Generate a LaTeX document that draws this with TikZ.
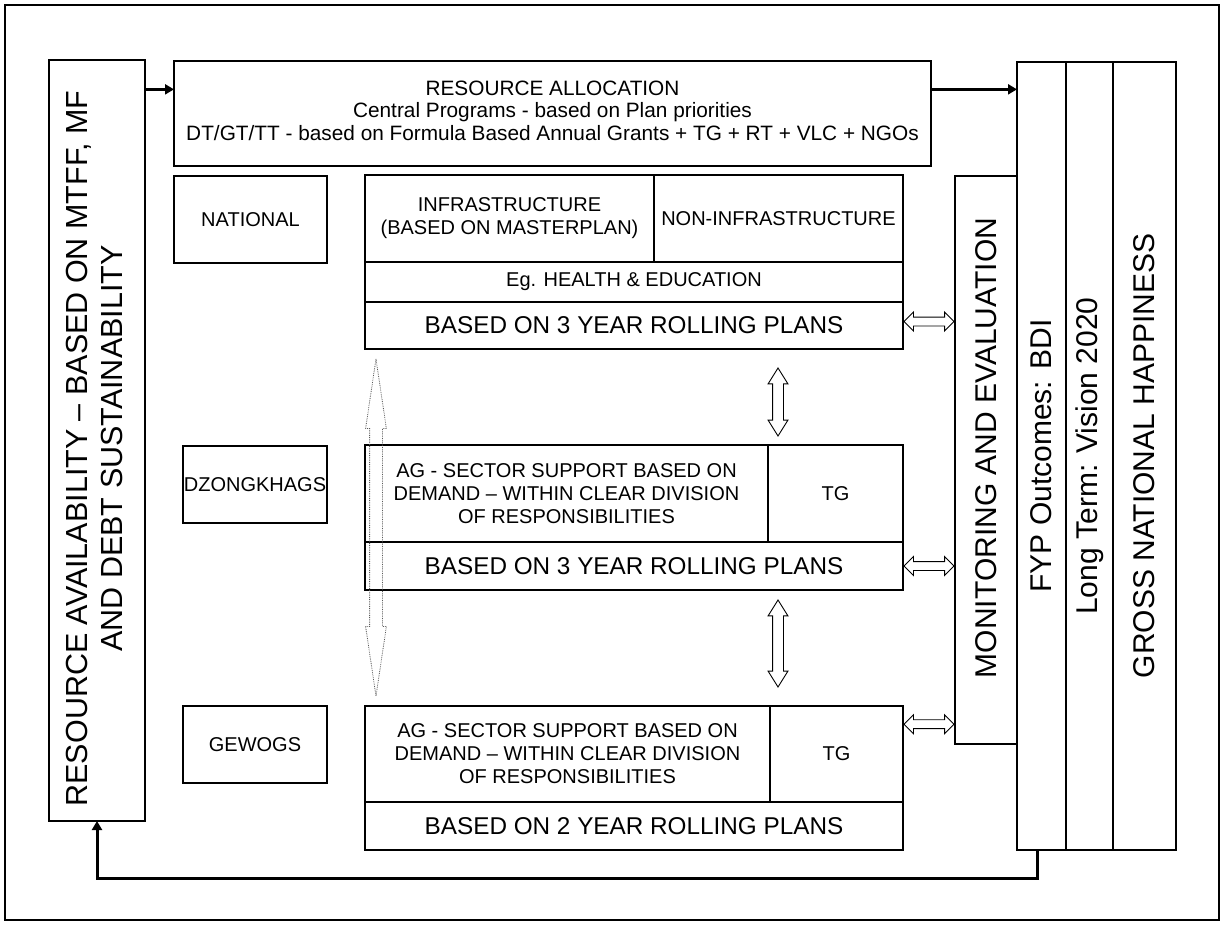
\documentclass[tikz,border=0pt]{standalone}
\usepackage{fontspec}
\setmainfont{Liberation Sans}
\usetikzlibrary{shapes.arrows,arrows.meta,calc}
\begin{document}
\begin{tikzpicture}[x=1pt,y=-1pt,
  cell/.style={draw,line width=1.2pt,inner sep=0pt,outer sep=0pt,anchor=north west,align=center,font=\fontsize{20}{23}\selectfont},
  bigtxt/.style={font=\fontsize{24.3}{28}\selectfont},
  vtxt/.style={rotate=90,align=center,inner sep=0pt,font=\fontsize{30}{35}\selectfont},
  flow/.style={line width=3pt,-{Triangle[length=9pt,width=10pt]}},
  harrow/.style={double arrow,draw,line width=0.9pt,inner xsep=0pt,inner ysep=4pt,text height=0pt,text depth=0pt,
    double arrow head extend=5pt,double arrow tip angle=90,minimum height=50pt},
  varrow/.style={double arrow,draw,line width=0.9pt,rotate=90,inner xsep=0pt,inner ysep=5pt,text height=0pt,text depth=0pt,
    double arrow head extend=4.5pt,double arrow tip angle=64},
  darrow/.style={double arrow,draw=black!65,densely dotted,line width=0.8pt,rotate=90,inner xsep=0pt,inner ysep=6pt,text height=0pt,text depth=0pt,
    double arrow head extend=4pt,double arrow tip angle=17}
]
\useasboundingbox (0,0) rectangle (1225,925);
\draw[line width=2pt] (5,5) rectangle (1219,920);

% left column
\node[cell,minimum width=96pt,minimum height=761pt] (avail) at (49,60) {};
\node[vtxt,font=\fontsize{30.5}{35}\selectfont] (availtxt) at ($(avail.center)+(-3,8)$) {RESOURCE AVAILABILITY -- BASED ON MTFF, MF\\AND DEBT SUSTAINABILITY};

% resource allocation
\node[cell,minimum width=757pt,minimum height=105pt] (alloc) at (174,61) {};
\node[align=center,font=\fontsize{20.8}{22.5}\selectfont,inner sep=0pt] (alloctxt) at ($(alloc.center)+(0,-3)$)
  {RESOURCE ALLOCATION\\Central Programs - based on Plan priorities\\DT/GT/TT - based on Formula Based Annual Grants + TG + RT + VLC + NGOs};

% national
\node[cell,minimum width=153pt,minimum height=87pt] (national) at (174,176) {NATIONAL};
\node[cell,minimum width=289pt,minimum height=87pt] (infra) at (365,175) {INFRASTRUCTURE\\(BASED ON MASTERPLAN)};
\node[cell,minimum width=249pt,minimum height=87pt] (noninfra) at (654,175) {NON-INFRASTRUCTURE};
\node[cell,minimum width=538pt,minimum height=40pt] (eg) at (365,262) {Eg. HEALTH \& EDUCATION};
\node[cell,bigtxt,minimum width=538pt,minimum height=47pt] (natbased) at (365,302) {BASED ON 3 YEAR ROLLING PLANS};

% dzongkhags
\node[cell,minimum width=144pt,minimum height=77pt] (dzlabel) at (183,446) {DZONGKHAGS};
\node[cell,minimum width=403pt,minimum height=97pt] (dzag) at (365,445) {AG - SECTOR SUPPORT BASED ON\\DEMAND -- WITHIN CLEAR DIVISION\\OF RESPONSIBILITIES};
\node[cell,minimum width=135pt,minimum height=97pt] (dztg) at (768,445) {TG};
\node[cell,bigtxt,minimum width=538pt,minimum height=48pt] (dzbased) at (365,542) {BASED ON 3 YEAR ROLLING PLANS};

% gewogs
\node[cell,minimum width=144pt,minimum height=77pt] (gwlabel) at (183,706) {GEWOGS};
\node[cell,minimum width=405pt,minimum height=96pt] (gwag) at (365,706) {AG - SECTOR SUPPORT BASED ON\\DEMAND -- WITHIN CLEAR DIVISION\\OF RESPONSIBILITIES};
\node[cell,minimum width=133pt,minimum height=96pt] (gwtg) at (770,706) {TG};
\node[cell,bigtxt,minimum width=538pt,minimum height=48pt] (gwbased) at (365,802) {BASED ON 2 YEAR ROLLING PLANS};

% monitoring and outcome columns
\node[cell,minimum width=62pt,minimum height=568pt] (mon) at (955,176) {};
\node[vtxt] (montxt) at ($(mon.center)+(0,-12)$) {MONITORING AND EVALUATION};
\node[cell,minimum width=49pt,minimum height=788pt] (fyp) at (1017,62) {};
\node[vtxt] (fyptxt) at (fyp.center) {FYP Outcomes: BDI};
\node[cell,minimum width=47pt,minimum height=788pt] (lt) at (1066,62) {};
\node[vtxt] (lttxt) at (lt.center) {Long Term: Vision 2020};
\node[cell,minimum width=63pt,minimum height=788pt] (gnh) at (1113,62) {};
\node[vtxt] (gnhtxt) at (gnh.center) {GROSS NATIONAL HAPPINESS};

% flow arrows
\coordinate (a1) at ($(alloc.north west)!0.27!(alloc.south west)$);
\draw[flow] (avail.east |- a1) -- (a1);
\draw[flow] (alloc.east |- a1) -- (fyp.west |- a1);
\draw[flow] ($(fyp.south)+(-4,0)$) -- ++(0,28) -| (avail.south);

% double arrows to monitoring
\node[harrow] (h1) at ($(natbased.east)!0.5!(mon.west |- natbased.east)+(0,-4)$) {};
\node[harrow] (h2) at ($(dzbased.east)!0.5!(mon.west |- dzbased.east)$) {};
\coordinate (g1) at ($(gwtg.north east)!0.19!(gwtg.south east)$);
\node[harrow] (h3) at ($(g1)!0.5!(mon.west |- g1)$) {};

% vertical double arrows between levels
\node[varrow,minimum height=68pt] (v1) at ($(778,0)+(0,402)$) {};
\node[varrow,minimum height=87pt] (v2) at ($(778,0)+(0,643.5)$) {};
\node[darrow,minimum height=337pt] (dv) at ($(376,0)+(0,527.5)$) {};
\end{tikzpicture}
\end{document}
